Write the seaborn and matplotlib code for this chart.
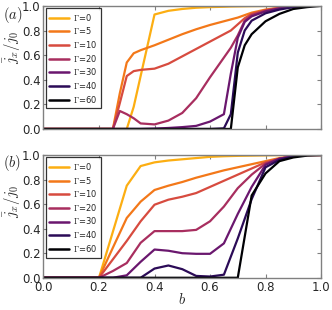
import numpy as np
import pandas as pd
import matplotlib
matplotlib.use('Agg')
import matplotlib.pyplot as plt
import seaborn as sns

# -----------------------------
# DATA
# -----------------------------
gammas = [0, 5, 10, 20, 30, 40, 60]

# panel (a)
b_a = [0.0, 0.25, 0.275, 0.3, 0.325, 0.35, 0.4, 0.45, 0.5, 0.55, 0.6,
       0.65, 0.675, 0.7, 0.725, 0.75, 0.8, 0.85, 0.9, 0.95, 1.0]
a_g0 = [0, 0, 0, 0, 0.18, 0.43, 0.93, 0.96, 0.975, 0.985, 0.99,
        0.993, 0.995, 0.996, 0.997, 0.998, 0.999, 1.0, 1.0, 1.0, 1.0]
a_g5 = [0, 0, 0.29, 0.54, 0.615, 0.64, 0.68, 0.725, 0.77, 0.81, 0.845,
        0.875, 0.89, 0.905, 0.925, 0.945, 0.97, 0.985, 0.995, 1.0, 1.0]
a_g10 = [0, 0, 0.21, 0.43, 0.47, 0.48, 0.49, 0.53, 0.59, 0.65, 0.71,
         0.77, 0.8, 0.85, 0.9, 0.935, 0.965, 0.985, 0.995, 1.0, 1.0]
a_g20 = [0, 0, 0.146, 0.12, 0.087, 0.045, 0.037, 0.068, 0.13, 0.25, 0.42,
         0.58, 0.66, 0.76, 0.88, 0.925, 0.96, 0.98, 0.995, 1.0, 1.0]
a_g30 = [0, 0, 0, 0, 0, 0, 0.003, 0.008, 0.015, 0.025, 0.06,
         0.12, 0.45, 0.74, 0.87, 0.915, 0.955, 0.98, 0.993, 1.0, 1.0]
a_g40 = [0, 0, 0, 0, 0, 0, 0, 0, 0, 0, 0,
         0.005, 0.12, 0.62, 0.8, 0.88, 0.94, 0.97, 0.99, 1.0, 1.0]
a_g60 = [0, 0, 0, 0, 0, 0, 0, 0, 0, 0, 0,
         0, 0, 0.5, 0.68, 0.77, 0.875, 0.935, 0.975, 0.99, 1.0]

# panel (b)
b_b = [0.0, 0.2, 0.25, 0.3, 0.35, 0.4, 0.45, 0.5, 0.55, 0.6,
       0.65, 0.7, 0.75, 0.8, 0.85, 0.9, 0.95, 1.0]
b_g0 = [0, 0, 0.375, 0.75, 0.91, 0.94, 0.955, 0.965, 0.975, 0.985,
        0.99, 0.993, 0.995, 0.997, 0.999, 1.0, 1.0, 1.0]
b_g5 = [0, 0, 0.245, 0.487, 0.62, 0.715, 0.75, 0.78, 0.815, 0.845,
        0.875, 0.9, 0.925, 0.95, 0.975, 0.99, 1.0, 1.0]
b_g10 = [0, 0, 0.15, 0.3, 0.46, 0.595, 0.636, 0.66, 0.69, 0.74,
         0.79, 0.84, 0.89, 0.94, 0.97, 0.99, 1.0, 1.0]
b_g20 = [0, 0, 0.055, 0.12, 0.285, 0.38, 0.38, 0.38, 0.39, 0.46,
         0.58, 0.73, 0.84, 0.93, 0.97, 0.99, 1.0, 1.0]
b_g30 = [0, 0, 0.0, 0.02, 0.13, 0.23, 0.22, 0.2, 0.195, 0.195,
         0.28, 0.52, 0.74, 0.92, 0.97, 0.99, 1.0, 1.0]
b_g40 = [0, 0, 0, 0, 0, 0.075, 0.1, 0.07, 0.015, 0.01,
         0.025, 0.32, 0.64, 0.9, 0.96, 0.99, 1.0, 1.0]
b_g60 = [0, 0, 0, 0, 0, 0, 0, 0, 0, 0,
         0, 0, 0.67, 0.85, 0.95, 0.98, 0.995, 1.0]

# -----------------------------
# STYLE
# -----------------------------
sns.set_style("ticks", {
    "xtick.direction": "in", "ytick.direction": "in",
    "xtick.top": True, "ytick.right": True,
    "axes.edgecolor": "0.5",
})
plt.rcParams['font.family'] = ['DejaVu Sans']
plt.rcParams['mathtext.fontset'] = 'cm'

cmap = plt.get_cmap("inferno")
cpos = [0.82, 0.7, 0.58, 0.45, 0.3, 0.15, 0.0]
colors = [cmap(v) for v in cpos]

fig = plt.figure(figsize=(3.32, 3.10), dpi=100)
ax_a = fig.add_axes([0.131, 0.584, 0.836, 0.397])
ax_b = fig.add_axes([0.131, 0.104, 0.836, 0.396])

panels = [
    (ax_a, b_a, [a_g0, a_g5, a_g10, a_g20, a_g30, a_g40, a_g60]),
    (ax_b, b_b, [b_g0, b_g5, b_g10, b_g20, b_g30, b_g40, b_g60]),
]

for ax, bvals, series in panels:
    for g, vals, col in zip(gammas, series, colors):
        df = pd.DataFrame({"b": bvals, "j": vals})
        sns.lineplot(data=df, x="b", y="j", ax=ax, color=col, lw=1.6,
                     label=r"$\Gamma$=%d" % g, estimator=None, sort=False)
    ax.set_xlim(0, 1)
    ax.set_ylim(0, 1)
    ax.set_xticks(np.arange(0, 1.01, 0.2))
    ax.set_yticks(np.arange(0, 1.01, 0.2))
    ax.tick_params(labelsize=8.5, length=3, width=0.8, color="0.5", pad=2)
    for s in ax.spines.values():
        s.set_linewidth(1.0)
    ax.set_ylabel(r"$\bar{j}_x/j_0$", fontsize=10.5)
    leg = ax.legend(loc="upper left", fontsize=6, frameon=True, fancybox=False,
                    handlelength=2.4, handletextpad=0.5, borderaxespad=0.25,
                    labelspacing=0.32, borderpad=0.45)
    leg.get_frame().set_edgecolor("black")
    leg.get_frame().set_linewidth(0.9)
    for h in leg.get_lines():
        h.set_linewidth(1.8)

ax_a.set_xlabel("")
ax_a.set_xticklabels([])
ax_a.yaxis.set_label_coords(-0.075, 0.66)
ax_b.yaxis.set_label_coords(-0.075, 0.62)
ax_b.set_xlabel("$b$", fontsize=10.5, labelpad=-1)

# panel tags
fig.text(0.008, 1 - 15 / 310, "$(a)$", fontsize=10.5, va="center", ha="left")
fig.text(0.008, 1 - 163 / 310, "$(b)$", fontsize=10.5, va="center", ha="left")

fig.savefig("out.png", dpi=100)
plt.close(fig)
